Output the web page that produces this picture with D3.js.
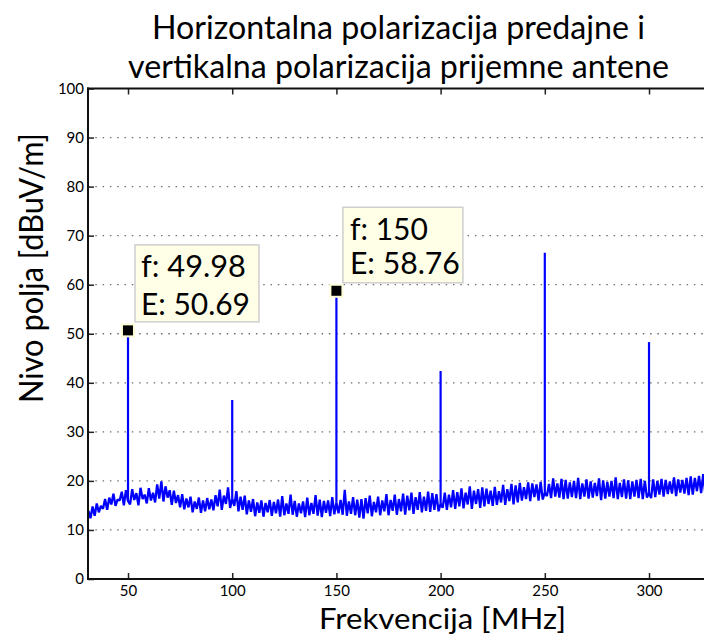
<!DOCTYPE html>
<html><head><meta charset="utf-8">
<script src="https://cdn.jsdelivr.net/npm/d3@7"></script>
<style>
body{margin:0;background:#fff}
svg{display:block}
text{font-family:Lato,"Open Sans",sans-serif;fill:#000}
</style>
</head><body>
<svg id="c" width="704" height="636"></svg>
<script>
// ---------- data ----------
const titleLines = ["Horizontalna polarizacija predajne i", "vertikalna polarizacija prijemne antene"];
const xLabel = "Frekvencija [MHz]";
const yLabel = "Nivo polja [dBuV/m]";
const xTicks = [50, 100, 150, 200, 250, 300];
const yTicks = [0, 10, 20, 30, 40, 50, 60, 70, 80, 90, 100];
const xDomain = [30.8, 330];
const yDomain = [0, 100];

// measured field level, 1 MHz sampling starting at 30 MHz
const freqStart = 30, freqStep = 1;
const noiseA = [ // 30..129 MHz
 11.0,13.9,12.4,14.8,12.9,15.4,13.6,14.9,14.3,16.3,
 14.1,16.6,15.2,17.4,14.9,16.2,16.0,17.8,15.0,18.1,
 15.9,15.2,18.3,16.1,17.5,15.0,18.6,16.3,17.2,15.4,
 18.5,16.0,17.6,15.6,19.3,16.4,19.9,15.8,18.9,16.6,
 18.1,15.1,18.0,15.5,17.1,14.6,17.3,14.2,16.4,14.6,
 16.8,13.6,15.8,14.3,16.6,13.5,16.0,13.8,16.5,14.2,
 16.2,14.0,17.1,14.8,18.2,14.1,17.0,15.3,18.7,14.5,
 16.4,14.9,17.9,13.8,16.8,14.1,17.0,13.2,16.0,13.7,
 16.3,12.8,15.6,13.5,16.0,12.7,15.5,13.6,16.1,12.9,
 15.7,13.4,16.2,12.7,16.9,13.0,15.4,13.3,17.2,13.1];
const noiseB = [ // 130..229 MHz
 15.9,12.7,15.4,13.4,15.8,12.6,16.6,13.0,15.5,13.3,
 17.1,12.9,16.2,12.6,15.9,13.5,16.0,12.8,16.7,13.2,
 15.6,13.4,16.1,13.1,18.2,12.9,15.8,13.3,16.7,13.0,
 16.2,12.5,16.3,12.3,16.5,13.4,17.0,12.8,15.7,13.6,
 16.8,13.0,16.0,13.8,17.3,13.0,16.1,13.9,17.2,13.1,
 16.3,13.8,17.4,13.1,17.0,14.0,17.6,13.3,16.7,14.1,
 17.7,13.6,16.8,13.9,17.8,13.7,17.5,14.1,17.3,13.8,
 15.4,14.5,17.6,14.1,17.2,14.6,18.1,14.3,17.7,14.8,
 18.5,14.4,17.6,15.2,18.9,14.3,18.0,15.3,18.3,14.5,
 18.7,14.8,18.4,15.3,18.0,14.9,18.8,15.1,17.9,15.6];
const noiseC = [ // 230..330 MHz
 19.2,15.1,18.3,15.9,19.4,15.2,19.1,15.6,19.6,16.0,
 18.7,16.3,19.7,15.9,19.5,16.7,19.3,16.0,19.8,16.2,
 17.6,16.9,19.4,16.5,20.5,16.8,19.5,16.6,20.4,16.3,
 20.2,16.4,19.7,16.7,20.0,16.5,20.6,16.3,19.5,16.8,
 20.3,16.4,19.9,16.6,19.6,16.9,20.5,16.1,20.1,16.4,
 19.8,16.8,20.0,16.5,20.7,16.3,19.6,16.7,20.3,16.4,
 20.1,16.3,19.9,16.8,20.2,16.5,20.4,16.3,20.0,16.6,
 17.5,16.5,20.3,16.7,20.0,17.2,20.4,16.8,20.2,17.3,
 19.9,17.4,20.7,16.9,20.3,17.6,20.2,17.4,20.6,17.1,
 20.9,17.2,20.6,17.9,21.0,17.5,21.4,17.4,20.5,18.2,
 21.2];

// harmonic peaks
const peakFreqs  = [50, 100, 150, 200, 250, 300];
const peakLevels = [50.69, 36.5, 58.76, 42.4, 66.5, 48.3];

// data tips
const tipFreqs  = [49.98, 150];
const tipLevels = [50.69, 58.76];
const tipLines  = [["f: 49.98", "E: 50.69"], ["f: 150", "E: 58.76"]];

// ---------- layout ----------
const W = 704, H = 636;
const L = 88, T = 88.5, B = 579;
const pxPerMHz = 2.084;
const x = d3.scaleLinear().domain(xDomain).range([L, L + (xDomain[1] - xDomain[0]) * pxPerMHz]);
const y = d3.scaleLinear().domain(yDomain).range([B, T]);

const svg = d3.select("#c");

// grid (horizontal dotted)
svg.append("g").selectAll("line")
  .data(yTicks.filter(v => v > yDomain[0] && v < yDomain[1]))
  .join("line")
  .attr("x1", L).attr("x2", W)
  .attr("y1", d => y(d)).attr("y2", d => y(d))
  .attr("stroke", "#6e6e6e").attr("stroke-width", 1.3)
  .attr("stroke-dasharray", "1.5,5.8");

// clip
svg.append("clipPath").attr("id", "plotclip")
  .append("rect").attr("x", L).attr("y", T).attr("width", W - L).attr("height", B - T);

// trace
const noise = noiseA.concat(noiseB, noiseC);
const trace = noise.map((v, i) => ({f: freqStart + i * freqStep, v}));
const plot = svg.append("g").attr("clip-path", "url(#plotclip)");
plot.append("path")
  .datum(trace)
  .attr("fill", "none").attr("stroke", "#0000ff").attr("stroke-width", 2.3)
  .attr("stroke-linejoin", "bevel")
  .attr("d", d3.line().x(d => x(d.f)).y(d => y(d.v)));

// peaks
const baseAt = f => noise[Math.round((f - freqStart) / freqStep)];
plot.append("g").selectAll("line")
  .data(peakFreqs.map((f, i) => ({f, v: peakLevels[i]})))
  .join("line")
  .attr("x1", d => x(d.f)).attr("x2", d => x(d.f))
  .attr("y1", d => y(baseAt(d.f))).attr("y2", d => y(d.v))
  .attr("stroke", "#0000ff").attr("stroke-width", 2.2);

// axes
const bottomAxis = d3.axisBottom(x).tickValues(xTicks).tickSize(-6).tickPadding(6).tickFormat(d3.format("d"));
const gx = svg.append("g").attr("transform", `translate(0,${B})`).call(bottomAxis);
gx.select(".domain").remove();
gx.selectAll(".tick line").attr("stroke", "#222").attr("stroke-width", 1.5);
gx.selectAll(".tick text").attr("font-family", "Lato").attr("font-size", 15).attr("fill", "#000");

const topAxis = d3.axisTop(x).tickValues(xTicks).tickSize(-6).tickFormat("");
const gt = svg.append("g").attr("transform", `translate(0,${T})`).call(topAxis);
gt.select(".domain").remove();
gt.selectAll(".tick line").attr("stroke", "#222").attr("stroke-width", 1.5);

const leftAxis = d3.axisLeft(y).tickValues(yTicks).tickSize(-6).tickPadding(4).tickFormat(d3.format("d"));
const gy = svg.append("g").attr("transform", `translate(${L},0)`).call(leftAxis);
gy.select(".domain").remove();
gy.selectAll(".tick line").attr("stroke", "#222").attr("stroke-width", 1.5);
gy.selectAll(".tick text").attr("font-family", "Lato").attr("font-size", 15).attr("fill", "#000");

// axis box lines
svg.append("line").attr("x1", L).attr("x2", L).attr("y1", T - 1).attr("y2", B + 1)
  .attr("stroke", "#111").attr("stroke-width", 2);
svg.append("line").attr("x1", L - 1).attr("x2", W).attr("y1", B).attr("y2", B)
  .attr("stroke", "#111").attr("stroke-width", 2);
svg.append("line").attr("x1", L - 1).attr("x2", W).attr("y1", T).attr("y2", T)
  .attr("stroke", "#111").attr("stroke-width", 2);

// data tips
const tipBoxes = [
  {dx: 7, dy: -85.5, w: 124, h: 77, tx: 6, b1: 32.5, b2: 70},
  {dx: 6.5, dy: -83.5, w: 120, h: 75.5, tx: 7, b1: 33, b2: 67}
];
const tipWidths = [[105, 109], [78, 110]];
tipFreqs.forEach((f, i) => {
  const mx = x(f), my = y(tipLevels[i]);
  const bx = tipBoxes[i];
  const g = svg.append("g");
  g.append("rect")
    .attr("x", mx + bx.dx).attr("y", my + bx.dy).attr("width", bx.w).attr("height", bx.h)
    .attr("fill", "#ffffe8").attr("stroke", "#cfcfcf").attr("stroke-width", 1.5);
  [bx.b1, bx.b2].forEach((b, j) => {
    g.append("text")
      .attr("x", mx + bx.dx + bx.tx).attr("y", my + bx.dy + b)
      .attr("font-size", 30)
      .attr("textLength", tipWidths[i][j]).attr("lengthAdjust", "spacingAndGlyphs")
      .text(tipLines[i][j]);
  });
  g.append("rect")
    .attr("x", mx - 6).attr("y", my - 6).attr("width", 12).attr("height", 12)
    .attr("fill", "#000").attr("stroke", "#fdfdd6").attr("stroke-width", 2);
});

// title
const t1 = svg.append("text").attr("x", 152).attr("y", 39).attr("font-size", 33.5).text(titleLines[0]);
const t2 = svg.append("text").attr("x", 126).attr("y", 78).attr("font-size", 33.5).text(titleLines[1]);
const w1 = t1.node().getComputedTextLength();
const w2 = t2.node().getComputedTextLength();
const k = 493 / w1;
t1.attr("textLength", 493).attr("lengthAdjust", "spacingAndGlyphs");
const l2 = w2 * k;
t2.attr("x", 398.5 - l2 / 2).attr("textLength", l2).attr("lengthAdjust", "spacingAndGlyphs");

// axis labels
svg.append("text").attr("x", 319).attr("y", 628.5).attr("font-size", 29.5)
  .attr("textLength", 247).attr("lengthAdjust", "spacingAndGlyphs").text(xLabel);
svg.append("text").attr("transform", "translate(42.5,403) rotate(-90)").attr("font-size", 33)
  .attr("textLength", 270).attr("lengthAdjust", "spacingAndGlyphs").text(yLabel);
</script>
</body></html>
